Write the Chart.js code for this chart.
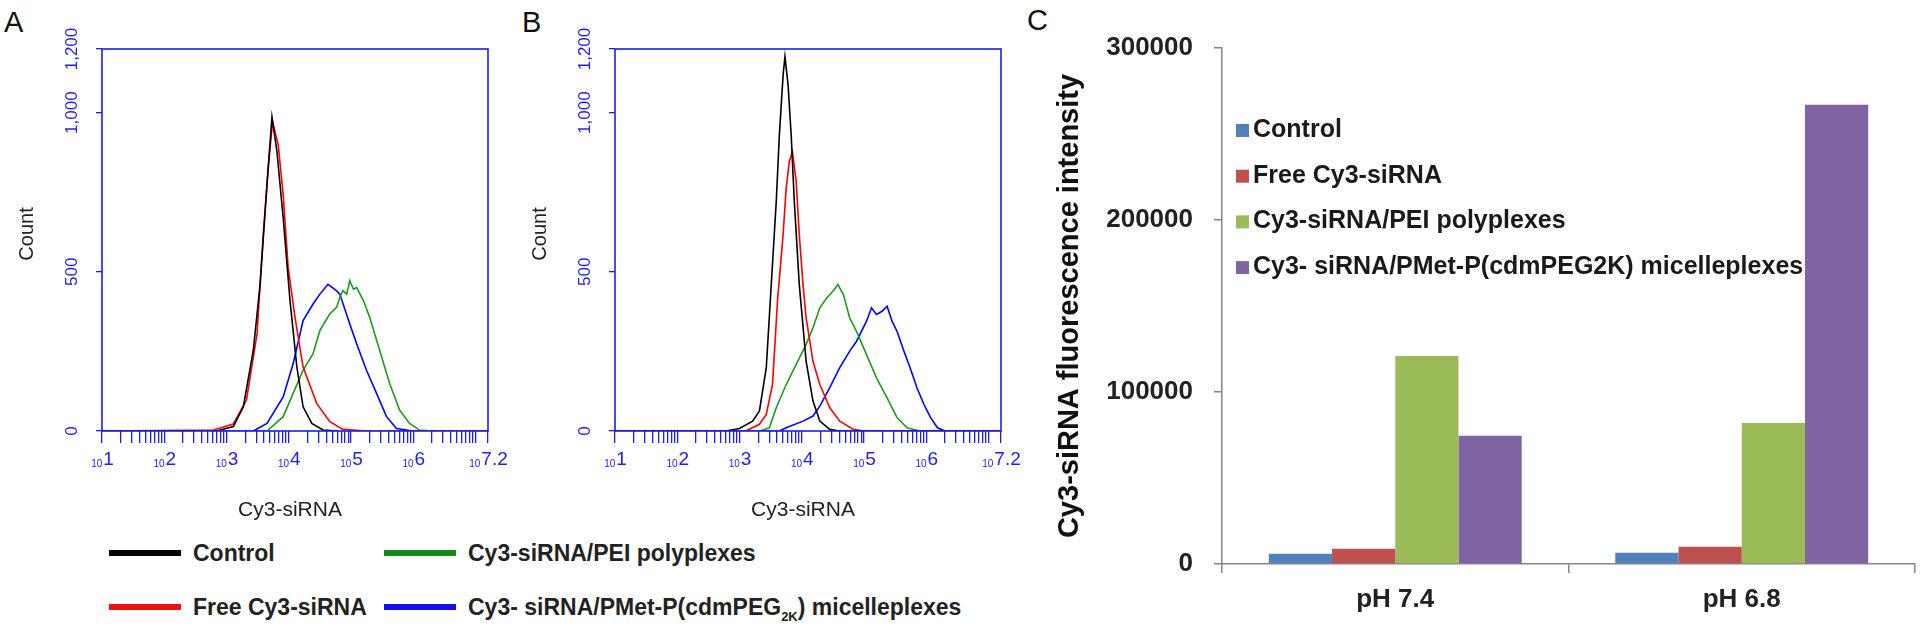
<!DOCTYPE html>
<html>
<head>
<meta charset="utf-8">
<script src="https://cdn.jsdelivr.net/npm/chart.js@4.4.1/dist/chart.umd.min.js"></script>
<style>
body { margin: 0; width: 1920px; height: 629px; background: #fff; position: relative; overflow: hidden; font-family: "Liberation Sans", Arial, sans-serif; }
canvas { position: absolute; top: 0; }
.letter { position: absolute; font-size: 29px; color: #111; line-height: 1; }
.lg { position: absolute; font-weight: bold; font-size: 23px; color: #222; line-height: 28px; white-space: nowrap; }
.sw { position: absolute; height: 6px; width: 72px; }
</style>
</head>
<body>
<div class="letter" style="left:4px;top:8px">A</div>
<div class="letter" style="left:522px;top:8px">B</div>
<div class="letter" style="left:1027px;top:6px">C</div>

<canvas id="chartA" width="520" height="530" style="left:0px"></canvas>
<canvas id="chartB" width="500" height="530" style="left:520px"></canvas>
<canvas id="chartC" width="900" height="629" style="left:1020px"></canvas>

<div class="sw" style="left:109px;top:550px;background:#000"></div>
<div class="lg" style="left:193px;top:539px">Control</div>
<div class="sw" style="left:384px;top:550px;background:#138a13"></div>
<div class="lg" style="left:468px;top:539px">Cy3-siRNA/PEI polyplexes</div>
<div class="sw" style="left:109px;top:604px;background:#ee1111"></div>
<div class="lg" style="left:193px;top:593px">Free Cy3-siRNA</div>
<div class="sw" style="left:384px;top:604px;background:#1111ee"></div>
<div class="lg" style="left:468px;top:593px">Cy3- siRNA/PMet-P(cdmPEG<sub style="font-size:13px">2K</sub>) micelleplexes</div>

<script>
Chart.defaults.font.family = "'Liberation Sans', Arial, sans-serif";

// histogram panels: [log10 intensity, count]
var expTicks = [1, 2, 3, 4, 5, 6, 7.2];
var countTicks = [0, 500, 1000, 1200];
var countLabels = ["0", "500", "1,000", "1,200"];

var aControl = [[1, 0], [2.84, 0], [3.11, 14], [3.27, 76], [3.43, 253], [3.54, 461], [3.65, 774], [3.73, 987], [3.81, 878], [3.91, 670], [4.02, 409], [4.13, 201], [4.23, 76], [4.37, 24], [4.55, 3], [4.8, 0]];
var aFree = [[1, 0], [2.79, 3], [3.11, 22], [3.32, 97], [3.49, 305], [3.59, 618], [3.67, 826], [3.74, 972], [3.83, 899], [3.91, 743], [3.99, 514], [4.10, 357], [4.23, 201], [4.45, 86], [4.66, 29], [4.87, 5], [5.25, 0], [7.2, 0]];
var aPei = [[1, 0], [3.65, 0], [3.91, 45], [4.07, 118], [4.23, 191], [4.39, 243], [4.50, 316], [4.66, 368], [4.77, 389], [4.82, 420], [4.87, 441], [4.93, 430], [4.98, 472], [5.04, 445], [5.09, 451], [5.20, 409], [5.30, 357], [5.46, 253], [5.62, 149], [5.78, 66], [5.94, 24], [6.10, 3], [6.3, 0], [7.2, 0]];
var aMicelle = [[1, 0], [3.43, 0], [3.65, 24], [3.91, 107], [4.07, 211], [4.23, 347], [4.39, 399], [4.50, 430], [4.63, 461], [4.77, 440], [4.82, 430], [4.98, 336], [5.09, 274], [5.25, 190], [5.41, 118], [5.57, 45], [5.73, 8], [6.0, 0], [7.2, 0]];

var bControl = [[1, 0], [2.78, 0], [3.0, 8], [3.21, 31], [3.32, 63], [3.43, 199], [3.51, 460], [3.59, 721], [3.64, 930], [3.70, 1118], [3.73, 1176], [3.78, 1087], [3.83, 930], [3.88, 721], [3.96, 460], [4.07, 219], [4.18, 94], [4.29, 31], [4.45, 5], [4.6, 0], [7.2, 0]];
var bFree = [[1, 0], [3.1, 0], [3.32, 21], [3.43, 52], [3.53, 146], [3.61, 408], [3.70, 617], [3.75, 763], [3.80, 846], [3.85, 878], [3.91, 784], [3.96, 617], [4.02, 460], [4.07, 355], [4.18, 219], [4.29, 146], [4.45, 73], [4.61, 31], [4.83, 5], [5.0, 0], [7.2, 0]];
var bPei = [[1, 0], [3.32, 0], [3.48, 10], [3.59, 73], [3.75, 146], [3.91, 209], [4.07, 272], [4.18, 324], [4.29, 387], [4.40, 418], [4.50, 439], [4.58, 460], [4.67, 428], [4.77, 355], [4.88, 313], [5.04, 240], [5.20, 167], [5.37, 104], [5.53, 42], [5.69, 10], [5.9, 0], [7.2, 0]];
var bMicelle = [[1, 0], [3.64, 0], [3.75, 10], [4.02, 31], [4.18, 47], [4.29, 78], [4.45, 136], [4.61, 199], [4.77, 251], [4.88, 282], [5.04, 345], [5.12, 387], [5.20, 366], [5.29, 376], [5.37, 392], [5.45, 345], [5.53, 313], [5.64, 251], [5.74, 199], [5.85, 136], [5.96, 84], [6.07, 42], [6.18, 10], [6.3, 0], [7.2, 0]];

var seriesNames = ["Control", "Free Cy3-siRNA", "Cy3-siRNA/PEI polyplexes", "Cy3- siRNA/PMet-P(cdmPEG2K) micelleplexes"];
var lineColors = ["#000000", "#ff0000", "#1f9a1f", "#0000ff"];

// bar panel
var phLabels = ["pH 7.4", "pH 6.8"];
var barControl = [6000, 6500];
var barFree = [8800, 10000];
var barPei = [121000, 82000];
var barMicelle = [74500, 267000];
var barColors = ["#4f81bd", "#c0504d", "#9bbb59", "#8064a2"];

var AXIS_BLUE = "#1d1df0";

var minorTicks = [];
for (var n = 1; n <= 7; n++) {
    for (var k = 1; k <= 9; k++) {
        var v = n + Math.log10(k);
        if (v <= 7.2) minorTicks.push(v);
    }
}
minorTicks.push(7.2);

var histDecor = {
    id: "histDecor",
    afterDraw: function (chart) {
        var ctx = chart.ctx;
        var a = chart.chartArea;
        var xs = chart.scales.x;
        var ys = chart.scales.y;
        ctx.save();
        ctx.strokeStyle = AXIS_BLUE;
        ctx.lineWidth = 1.6;
        ctx.strokeRect(a.left, a.top, a.right - a.left, a.bottom - a.top);

        ctx.fillStyle = AXIS_BLUE;
        ctx.font = "17px 'Liberation Sans'";
        ctx.textAlign = "center";
        ctx.textBaseline = "middle";
        countTicks.forEach(function (v, i) {
            ctx.save();
            ctx.translate(a.left - 30, ys.getPixelForValue(v));
            ctx.rotate(-Math.PI / 2);
            ctx.fillText(countLabels[i], 0, 0);
            ctx.restore();
        });

        ctx.textAlign = "left";
        ctx.textBaseline = "alphabetic";
        expTicks.forEach(function (v) {
            var x = xs.getPixelForValue(v);
            var sup = String(v);
            ctx.font = "10px 'Liberation Sans'";
            var w1 = ctx.measureText("10").width;
            ctx.font = "19px 'Liberation Sans'";
            var w2 = ctx.measureText(sup).width;
            var x0 = x - (w1 + w2) / 2;
            ctx.font = "10px 'Liberation Sans'";
            ctx.fillText("10", x0, a.bottom + 36);
            ctx.font = "19px 'Liberation Sans'";
            ctx.fillText(sup, x0 + w1 + 1, a.bottom + 34);
        });

        ctx.fillStyle = "#222";
        ctx.font = "20px 'Liberation Sans'";
        ctx.textAlign = "center";
        ctx.textBaseline = "middle";
        ctx.save();
        ctx.translate(a.left - 75, (a.top + a.bottom) / 2 - 6);
        ctx.rotate(-Math.PI / 2);
        ctx.fillText("Count", 0, 0);
        ctx.restore();
        ctx.font = "21px 'Liberation Sans'";
        ctx.fillText("Cy3-siRNA", (a.left + a.right) / 2 - 5, a.bottom + 79);
        ctx.restore();
    }
};

function HistChart(id, series, leftW, rightPad) {
    var datasets = series.map(function (s, i) {
        return {
            label: seriesNames[i],
            data: s.map(function (p) { return { x: p[0], y: p[1] }; }),
            borderColor: lineColors[i],
            borderWidth: 1.6,
            pointRadius: 0,
            fill: false,
            tension: 0
        };
    });
    return new Chart(document.getElementById(id), {
        type: "line",
        data: { datasets: datasets },
        options: {
            responsive: false,
            animation: false,
            layout: { padding: { left: 0, top: 49, right: rightPad, bottom: 0 } },
            plugins: { legend: { display: false }, tooltip: { enabled: false } },
            scales: {
                x: {
                    type: "linear", min: 1, max: 7.2,
                    afterBuildTicks: function (s) { s.ticks = minorTicks.map(function (v) { return { value: v }; }); },
                    ticks: { display: false },
                    grid: { drawOnChartArea: false, tickLength: 12, color: AXIS_BLUE, lineWidth: 1.3 },
                    border: { display: false },
                    afterFit: function (s) { s.height = 99; }
                },
                y: {
                    min: 0, max: 1200,
                    afterBuildTicks: function (s) { s.ticks = countTicks.map(function (v) { return { value: v }; }); },
                    ticks: { display: false },
                    grid: { drawOnChartArea: false, tickLength: 6, color: AXIS_BLUE, lineWidth: 1.3 },
                    border: { display: false },
                    afterFit: function (s) { s.width = leftW; }
                }
            }
        },
        plugins: [histDecor]
    });
}

HistChart("chartA", [aControl, aFree, aPei, aMicelle], 102, 32);
HistChart("chartB", [bControl, bFree, bPei, bMicelle], 95, 19);

var barLegend = {
    id: "barLegend",
    afterDraw: function (chart) {
        var ctx = chart.ctx;
        var a = chart.chartArea;
        ctx.save();
        ctx.font = "bold 25px 'Liberation Sans'";
        ctx.textBaseline = "middle";
        ctx.textAlign = "left";
        chart.data.datasets.forEach(function (ds, i) {
            var y = a.top + 82 + i * 45.7;
            ctx.fillStyle = ds.backgroundColor;
            ctx.fillRect(a.left + 14, y - 6, 13, 13);
            ctx.fillStyle = "#1a1a1a";
            ctx.fillText(ds.label, a.left + 31, y);
        });
        ctx.restore();
    }
};

var barSeries = [barControl, barFree, barPei, barMicelle];
new Chart(document.getElementById("chartC"), {
    type: "bar",
    data: {
        labels: phLabels,
        datasets: barSeries.map(function (d, i) {
            return {
                label: seriesNames[i],
                data: d,
                backgroundColor: barColors[i],
                borderWidth: 0,
                barPercentage: 1,
                categoryPercentage: 0.73
            };
        })
    },
    options: {
        responsive: false,
        animation: false,
        layout: { padding: { left: 0, top: 48, right: 5, bottom: 0 } },
        plugins: { legend: { display: false }, tooltip: { enabled: false } },
        scales: {
            x: {
                grid: { drawOnChartArea: false, tickLength: 9, color: "#868686", lineWidth: 1.5 },
                border: { color: "#868686", width: 1.5 },
                ticks: { color: "#222", font: { size: 26, weight: "bold" }, padding: 11 },
                afterFit: function (s) { s.height = 65; }
            },
            y: {
                min: 0, max: 300000,
                ticks: { stepSize: 100000, color: "#222", font: { size: 26, weight: "bold" }, padding: 21,
                    callback: function (v) { return String(v); } },
                grid: { drawOnChartArea: false, tickLength: 8, color: "#868686", lineWidth: 1.5 },
                border: { color: "#868686", width: 1.5 },
                title: { display: true, text: "Cy3-siRNA fluorescence intensity", color: "#111",
                    font: { size: 29, weight: "bold" }, padding: { top: 33 } },
                afterFit: function (s) { s.width = 202; }
            }
        }
    },
    plugins: [barLegend]
});
</script>
</body>
</html>
